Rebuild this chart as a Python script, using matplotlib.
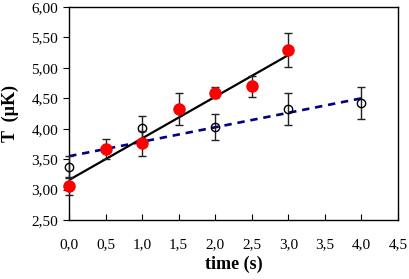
import matplotlib
matplotlib.use("Agg")
import matplotlib.pyplot as plt
from matplotlib.ticker import FuncFormatter

# measured temperatures (red, filled)
t_red = [0.0, 0.5, 1.0, 1.5, 2.0, 2.5, 3.0]
T_red = [3.06, 3.67, 3.76, 4.32, 4.59, 4.70, 5.29]
err_red = [0.15, 0.16, 0.20, 0.26, 0.09, 0.17, 0.28]

# open circles
t_open = [0.0, 1.0, 2.0, 3.0, 4.0]
T_open = [3.37, 4.01, 4.03, 4.32, 4.42]
err_open = [0.18, 0.20, 0.22, 0.26, 0.26]

# trend lines (end points)
fit_red_t = [0.0, 3.0]
fit_red_T = [3.16, 5.21]
fit_open_t = [0.0, 4.0]
fit_open_T = [3.55, 4.50]

plt.rcParams["font.family"] = ["Liberation Serif", "DejaVu Serif"]

fig = plt.figure(figsize=(4.09, 2.79), dpi=100)
ax = fig.add_axes([0.169, 0.211, 0.804, 0.764])

ax.plot(fit_open_t, fit_open_T, color="#000080", lw=1.9, dashes=(2.8, 2.2), zorder=2)
ax.plot(fit_red_t, fit_red_T, color="black", lw=1.6, zorder=2)

eb1 = ax.errorbar(t_open, T_open, yerr=err_open, fmt="o", ms=6, mfc="none", mec="black",
                  mew=1.0, ecolor="#222222", elinewidth=1.0, capsize=3, zorder=3)
eb2 = ax.errorbar(t_red, T_red, yerr=err_red, fmt="o", ms=8, mfc="#ff0000", mec="#ff0000",
                  ecolor="#222222", elinewidth=1.0, capsize=3, zorder=4)
for eb in (eb1, eb2):
    for art in eb.lines[:1] + tuple(eb.lines[1]) + tuple(eb.lines[2]):
        art.set_clip_on(False)

ax.set_xlim(0, 4.5)
ax.set_ylim(2.5, 6.0)
ax.set_xticks([0, 0.5, 1, 1.5, 2, 2.5, 3, 3.5, 4, 4.5])
ax.set_yticks([2.5, 3, 3.5, 4, 4.5, 5, 5.5, 6])
ax.xaxis.set_major_formatter(FuncFormatter(lambda v, p: f"{v:.1f}".replace(".", ",")))
ax.yaxis.set_major_formatter(FuncFormatter(lambda v, p: f"{v:.2f}".replace(".", ",")))
ax.tick_params(axis="x", direction="in", length=4, labelsize=11, pad=13)
ax.tick_params(axis="y", direction="out", length=4, labelsize=11, pad=4)

for s in ax.spines.values():
    s.set_linewidth(1.0)

ax.set_xlabel("time (s)", fontsize=13, fontweight="bold", labelpad=3)
fig.text(10 / 409, 0.593, "T  (\u00b5K)", fontsize=13, fontweight="bold",
         rotation=90, ha="center", va="center")

fig.savefig("out.png", dpi=100)
